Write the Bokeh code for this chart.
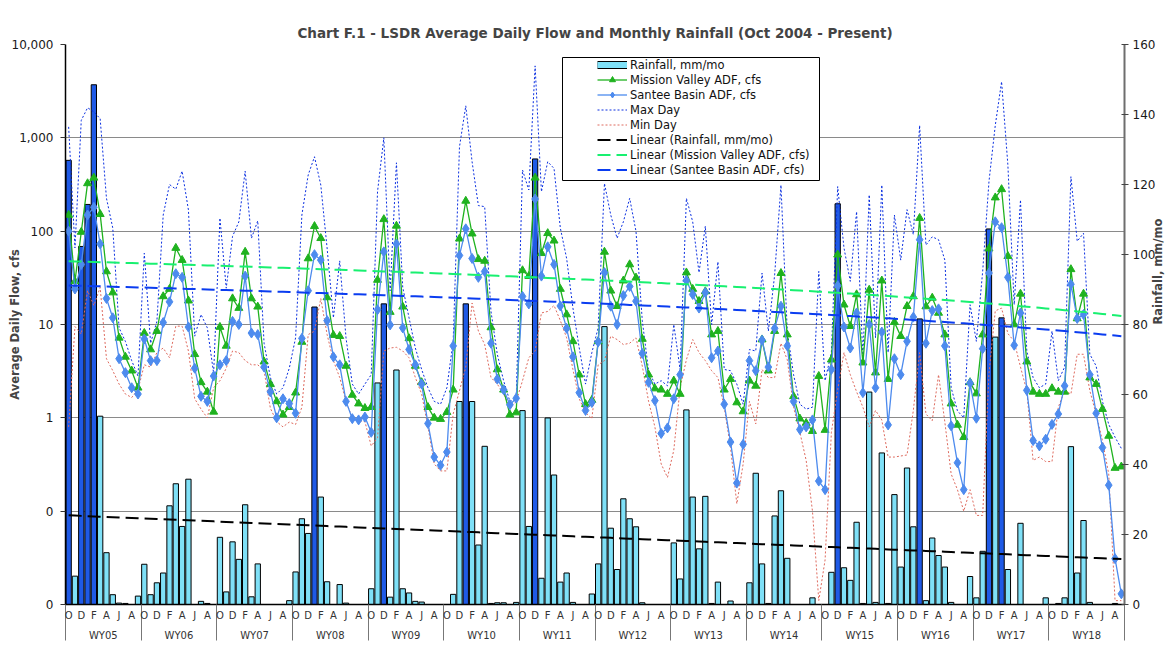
import math
import numpy as np
from bokeh.plotting import figure
from bokeh.models import (Range1d, LinearAxis, LinearScale, FixedTicker, Legend,
                          LegendItem, BoxAnnotation)
from bokeh.embed import file_html
from bokeh.resources import INLINE

# ---------------- data ----------------
WATER_YEARS = ["WY05", "WY06", "WY07", "WY08", "WY09", "WY10", "WY11",
               "WY12", "WY13", "WY14", "WY15", "WY16", "WY17", "WY18"]
MONTH_LETTERS = ["O", "N", "D", "J", "F", "M", "A", "M", "J", "J", "A", "S"]
SHOWN_MONTHS = [0, 2, 4, 6, 8, 10]

flow_ticks = [0.01, 0.1, 1, 10, 100, 1000, 10000]
flow_tick_labels = ["0", "0", "1", "10", "100", "1,000", "10,000"]
rain_ticks = [0, 20, 40, 60, 80, 100, 120, 140, 160]

# monthly rainfall, mm/mo (Oct 2004 .. Sep 2018)
rain = [
    126.9, 8.1, 102.3, 114.3, 148.5, 53.8, 14.8, 2.8, 0.4, 0.3, 0, 2.4,
    11.5, 2.8, 6.2, 9.0, 28.2, 34.5, 22.3, 35.8, 0, 0.9, 0.3, 0,
    19.2, 3.6, 17.9, 12.9, 28.5, 2.2, 11.6, 0, 0, 0, 0, 1.1,
    9.3, 24.5, 20.3, 85.0, 30.7, 6.5, 0, 5.7, 0.4, 0, 0, 0,
    4.5, 63.3, 85.9, 2.1, 67.0, 4.5, 3.3, 0.9, 0.7, 0, 0, 0,
    0, 2.9, 58.0, 85.9, 58.0, 17.0, 45.2, 0.3, 0.5, 0.5, 0, 0.6,
    55.4, 22.3, 127.3, 7.5, 53.3, 37.0, 6.4, 9.0, 0.6, 0, 0, 3.0,
    11.6, 79.4, 21.8, 10.0, 30.2, 24.5, 22.2, 0.5, 0, 0, 0, 0,
    17.6, 7.3, 55.6, 30.7, 15.9, 30.9, 0.3, 6.4, 0, 1.0, 0, 0,
    6.2, 37.5, 11.6, 0.3, 25.3, 32.5, 13.2, 0, 0, 0, 1.9, 0,
    0, 9.2, 114.5, 10.5, 6.9, 23.5, 0.3, 60.7, 0.6, 43.3, 0.3, 31.4,
    10.7, 39.0, 22.2, 81.6, 1.1, 19.0, 14.0, 10.7, 0.6, 0, 0, 8.0,
    1.9, 15.2, 107.3, 76.4, 81.9, 10.0, 0, 23.2, 0, 0, 0, 1.9,
    0, 0.3, 1.9, 45.1, 9.0, 24.0, 0.6, 0, 0, 0, 0.3, 0,
]
# months whose rainfall bar is drawn in dark blue
highlight_months = [0, 2, 3, 4, 39, 50, 63, 74, 122, 135, 146, 148]

mission_valley = [
    149, 29, 98, 325, 373, 152, 37, 22, 7.2, 4.5, 3.2, 2.1,
    8.1, 5.4, 8.5, 20, 24, 66, 49, 18, 4.8, 2.4, 1.9, 1.16,
    9.4, 5.9, 19, 15, 60, 19, 15.5, 4.0, 2.3, 1.5, 1.08, 1.3,
    1.86, 6.5, 51, 113, 84, 19.5, 7.7, 7.5, 3.6, 1.76, 1.42, 1.27,
    1.3, 30, 134, 13.6, 114, 15.5, 7.1, 3.6, 2.4, 1.3, 1.0, 0.97,
    1.15, 2.0, 83, 211, 94, 50, 48, 9.3, 3.3, 2.0, 1.08, 1.14,
    38, 33, 373, 58, 95, 79, 24, 12.8, 6.6, 2.9, 1.4, 1.55,
    6.6, 60, 23, 15.7, 29.5, 44, 31.7, 7.0, 2.9, 2.06, 2.0, 1.8,
    2.5, 1.8, 36, 24, 17.8, 22.6, 7.8, 8.5, 2.0, 2.6, 1.46, 1.17,
    2.5, 2.2, 6.9, 3.2, 8.5, 35.5, 7.8, 1.7, 0.98, 0.88, 0.72, 2.8,
    0.74, 4.2, 56, 16.3, 9.6, 21, 3.9, 23.5, 3.05, 29.5, 2.6, 10.6,
    7.5, 15.7, 20, 138, 15.6, 19.3, 13.3, 7.8, 1.42, 0.84, 0.62, 2.4,
    1.82, 7.8, 65, 229, 281, 54, 10, 21.3, 4.0, 1.9, 1.8, 1.8,
    2.07, 1.9, 1.9, 39, 11.6, 21.3, 2.7, 2.3, 1.24, 0.64, 0.29, 0.30,
]

santee_basin = [
    100, 24, 44, 149, 180, 73, 19, 11.8, 4.3, 3.05, 2.1, 1.8,
    7.0, 4.1, 4.1, 10.5, 17.5, 35, 32, 9.4, 3.4, 1.7, 1.5, 2.8,
    3.7, 4.1, 10.8, 10, 33, 8.1, 7.8, 3.5, 1.9, 1.0, 1.6, 1.42,
    1.12, 7.1, 23, 56, 49, 11, 4.5, 3.7, 1.5, 0.98, 0.95, 1.02,
    0.70, 14.4, 60, 9.9, 73, 9.2, 5.4, 3.7, 2.3, 0.87, 0.38, 0.31,
    0.43, 5.9, 55, 106, 51, 32, 37, 6.3, 2.6, 2.0, 1.38, 1.62,
    20, 16.6, 221, 33, 68, 44, 15.8, 9.1, 4.5, 1.86, 1.2, 1.46,
    6.5, 36, 15.7, 10, 20.4, 25.6, 17.8, 4.9, 2.4, 1.53, 0.68, 0.78,
    1.6, 2.9, 29.6, 21, 15, 22, 4.4, 5.2, 1.4, 0.55, 0.2, 0.52,
    4.1, 3.2, 6.8, 3.5, 9.1, 15.7, 5.9, 1.5, 0.75, 0.8, 0.95, 0.21,
    0.17, 3.3, 26, 9.4, 5.6, 13.3, 1.86, 10, 2.1, 8.3, 0.84, 4.3,
    2.9, 6.6, 12, 81, 6.3, 14.1, 14.7, 5.9, 0.82, 0.33, 0.17, 2.35,
    0.99, 5.5, 35.6, 126, 109, 32, 6.0, 13.3, 1.97, 0.57, 0.50, 0.59,
    0.85, 1.1, 2.2, 27, 11.6, 12.8, 2.9, 1.12, 0.48, 0.19, 0.031, 0.013,
]

max_day = [
    1310, 66, 1540, 2100, 1900, 1600, 225, 108, 9.2, 6.6, 4.1, 2.8,
    58, 6.3, 10.8, 149, 316, 282, 440, 169, 7.5, 12.8, 9.2, 3.0,
    138, 24.5, 88, 126, 440, 84, 129, 6.3, 2.7, 1.8, 2.1, 3.4,
    7.2, 149, 400, 627, 312, 66, 11.8, 48, 7.2, 2.3, 1.8, 2.3,
    2.9, 265, 1000, 23, 540, 25, 11.8, 5.6, 3.3, 2.1, 1.5, 1.4,
    2.1, 6.6, 800, 2200, 555, 188, 183, 13.8, 4.8, 2.5, 1.5, 1.58,
    452, 276, 5900, 265, 555, 470, 108, 51, 15, 5.6, 2.3, 5.0,
    9.2, 325, 149, 84, 126, 225, 100, 11, 3.2, 2.3, 2.5, 2.2,
    10, 3.3, 225, 126, 36, 113, 10, 47, 3.3, 3.2, 2.3, 1.4,
    5.4, 5.2, 35.6, 8.5, 34, 312, 8.5, 2.9, 1.4, 1.24, 1.3, 37,
    2.5, 5.0, 300, 66, 29, 162, 4.5, 245, 7.2, 312, 5.0, 149,
    49, 170, 92, 1360, 71, 87, 81, 49, 2.1, 1.19, 1.0, 16.3,
    6.6, 37, 340, 1360, 4000, 510, 16.3, 216, 5.2, 2.7, 2.1, 2.3,
    8.5, 2.5, 3.5, 383, 78, 95, 4.8, 3.6, 1.5, 0.85, 0.62, 0.47,
]

min_day = [
    0.8, 9.5, 7.9, 23, 16, 25, 4.3, 3.2, 2.3, 1.8, 1.65, 2.0,
    3.7, 3.5, 5.0, 5.6, 4.4, 9.6, 9.6, 5.2, 1.6, 1.24, 1.0, 2.1,
    2.5, 3.4, 5.2, 5.0, 4.1, 3.7, 3.7, 3.2, 1.27, 0.91, 0.8, 0.9,
    0.85, 1.3, 7.8, 8.5, 19, 7.8, 4.1, 2.7, 1.5, 1.0, 0.93, 0.91,
    0.50, 0.61, 5.2, 5.6, 5.7, 5.2, 4.4, 2.7, 1.8, 0.80, 0.32, 0.27,
    0.27, 1.1, 1.95, 3.5, 17, 8.5, 6.1, 2.7, 2.3, 1.8, 1.3, 1.5,
    2.5, 4.4, 5.2, 13.3, 13.8, 16, 11, 7.2, 3.3, 1.6, 1.14, 0.98,
    3.7, 4.1, 7.5, 6.9, 6.1, 6.3, 7.2, 3.6, 1.5, 0.80, 0.32, 0.23,
    0.45, 2.1, 4.2, 6.9, 5.0, 4.1, 3.2, 2.7, 1.3, 0.48, 0.12, 0.32,
    1.5, 0.86, 3.3, 2.7, 2.7, 6.3, 4.2, 1.3, 0.7, 0.35, 0.1, 0.011,
    0.03, 0.7, 2.0, 5.0, 2.9, 1.9, 1.3, 0.8, 1.2, 0.95, 0.38, 0.38,
    0.39, 0.4, 1.2, 5.0, 1.1, 0.93, 2.9, 0.9, 0.25, 0.17, 0.1, 0.17,
    0.09, 0.09, 3.0, 14, 15, 8.0, 6.6, 3.5, 1.95, 0.35, 0.38, 0.34,
    0.34, 1.3, 1.95, 1.8, 4.8, 4.8, 1.95, 1.1, 0.57, 0.25, 0.011, 0.011,
]

# ---------------- styling constants ----------------
FONT = "DejaVu Sans"
LIGHT_BAR = "#7FE0F7"
DARK_BAR = "#1F5AE6"
MV_GREEN = "#1FB21F"
SB_BLUE = "#4D8BEE"
MAX_BLUE = "#0A2FE0"
MIN_RED = "#DE6A5E"
TREND_GREEN = "#18F070"
TREND_BLUE = "#0A3CF0"
GRID = "#8A8A8A"

n = len(rain)
idx = np.arange(n)
x = idx + 0.5
bar_colors = [DARK_BAR if i in highlight_months else LIGHT_BAR for i in range(n)]


def linear_trend(vals):
    a, b = np.polyfit(idx, np.asarray(vals, dtype=float), 1)
    return a * idx + b


p = figure(width=1176, height=648,
           x_range=Range1d(0, n), y_range=Range1d(0.01, 10000),
           y_axis_type="log", output_backend="svg", toolbar_location=None,
           min_border_left=65, min_border_right=52, min_border_top=44,
           min_border_bottom=44,
           title="Chart F.1 - LSDR Average Daily Flow and Monthly Rainfall (Oct 2004 - Present)")
p.title.text_font = FONT
p.title.text_font_size = "13.5px"
p.title.text_font_style = "bold"
p.title.align = "center"
p.title.standoff = 7
p.outline_line_color = None
p.background_fill_color = "white"

p.extra_y_ranges = {"rain": Range1d(0, 160)}
p.extra_y_scales = {"rain": LinearScale()}

# left (flow) axis
yt = FixedTicker(ticks=flow_ticks)
yax = p.yaxis[0]
yax.ticker = yt
yax.major_label_overrides = {t: lab for t, lab in zip(flow_ticks, flow_tick_labels)}
yax.axis_label = "Average Daily Flow, cfs"
yax.axis_label_text_font = FONT
yax.axis_label_text_font_size = "11.5px"
yax.axis_label_text_font_style = "bold"
yax.axis_label_standoff = -13
yax.major_label_text_font = FONT
yax.major_label_text_font_size = "12px"
yax.major_label_text_color = "#1a1a1a"
yax.major_label_standoff = 7
yax.major_tick_out = 5
yax.major_tick_in = 0
yax.minor_tick_line_color = None
yax.axis_line_color = "black"
yax.axis_line_width = 1.5
yax.major_tick_line_color = "#333333"

p.ygrid.ticker = yt
p.ygrid.grid_line_color = GRID
p.ygrid.grid_line_width = 1
p.xgrid.visible = False

# right (rain) axis
rax = LinearAxis(y_range_name="rain", ticker=FixedTicker(ticks=rain_ticks))
rax.axis_label = "Rainfall, mm/mo"
rax.axis_label_text_font = FONT
rax.axis_label_text_font_size = "11.5px"
rax.axis_label_text_font_style = "bold"
rax.axis_label_standoff = 0
rax.major_label_text_font = FONT
rax.major_label_text_font_size = "12px"
rax.major_label_text_color = "#1a1a1a"
rax.major_label_standoff = 4
rax.major_tick_out = 4
rax.major_tick_in = 3
rax.major_tick_line_color = "#444444"
rax.minor_tick_line_color = None
rax.axis_line_color = "#6e6e6e"
rax.axis_line_width = 2
try:
    rax.axis_label_orientation = math.pi / 2
except Exception:
    pass
p.add_layout(rax, "right")

# bottom month axis with water-year separators (minor ticks)
month_pos, month_lab = [], []
for w in range(len(WATER_YEARS)):
    for m in SHOWN_MONTHS:
        month_pos.append(w * 12 + m + 0.5)
        month_lab.append(MONTH_LETTERS[m])
separators = [w * 12 for w in range(len(WATER_YEARS) + 1)]
xax = p.xaxis[0]
xax.ticker = FixedTicker(ticks=month_pos, minor_ticks=separators)
xax.major_label_overrides = {t: lab for t, lab in zip(month_pos, month_lab)}
xax.major_label_text_font = FONT
xax.major_label_text_font_size = "10px"
xax.major_label_text_color = "#333333"
xax.major_label_standoff = -31
xax.major_tick_out = 0
xax.major_tick_in = 0
xax.minor_tick_out = 36
xax.minor_tick_in = 0
xax.minor_tick_line_color = "#777777"
xax.minor_tick_line_width = 1
xax.axis_line_color = "black"
xax.axis_line_width = 1.5

wy_pos = [w * 12 + 6 for w in range(len(WATER_YEARS))]
wax = LinearAxis(ticker=FixedTicker(ticks=wy_pos))
wax.major_label_overrides = {t: lab for t, lab in zip(wy_pos, WATER_YEARS)}
wax.major_label_text_font = FONT
wax.major_label_text_font_size = "10px"
wax.major_label_text_color = "#333333"
wax.major_label_standoff = 0
wax.major_tick_line_color = None
wax.minor_tick_line_color = None
wax.axis_line_color = None
p.add_layout(wax, "below")

# rainfall bars
p.vbar(x=x, top=rain, bottom=0, width=0.84, y_range_name="rain",
       fill_color=bar_colors, line_color="black", line_width=1)

# daily extremes
r_min = p.line(x, min_day, line_color=MIN_RED, line_dash="2 2", line_width=1)
r_max = p.line(x, max_day, line_color=MAX_BLUE, line_dash="2 2", line_width=1)

# average daily flows
r_mv_l = p.line(x, mission_valley, line_color=MV_GREEN, line_width=1.3)
r_mv_m = p.scatter(x, mission_valley, marker="triangle", size=8,
                   fill_color=MV_GREEN, line_color=MV_GREEN)
r_sb_l = p.line(x, santee_basin, line_color=SB_BLUE, line_width=1.3)
r_sb_m = p.scatter(x, santee_basin, marker="diamond", size=10,
                   fill_color=SB_BLUE, line_color=SB_BLUE)

# linear trendlines
r_tr_rain = p.line(x, linear_trend(rain), y_range_name="rain",
                   line_color="black", line_width=2, line_dash="13 6")
r_tr_mv = p.line(x, linear_trend(mission_valley), line_color=TREND_GREEN,
                 line_width=2, line_dash="13 6")
r_tr_sb = p.line(x, linear_trend(santee_basin), line_color=TREND_BLUE,
                 line_width=2, line_dash="13 6")

# legend swatch for rainfall (outlined flat bar); invisible (NaN) data
nan2 = [float("nan"), float("nan")]
r_rain_edge = p.line(x=x[:2], y=nan2, line_color="black", line_width=8)
r_rain_fill = p.line(x=x[:2], y=nan2, line_color=LIGHT_BAR, line_width=6)

legend = Legend(items=[
    LegendItem(label="Rainfall, mm/mo", renderers=[r_rain_edge, r_rain_fill]),
    LegendItem(label="Mission Valley ADF, cfs", renderers=[r_mv_l, r_mv_m]),
    LegendItem(label="Santee Basin ADF, cfs", renderers=[r_sb_l, r_sb_m]),
    LegendItem(label="Max Day", renderers=[r_max]),
    LegendItem(label="Min Day", renderers=[r_min]),
    LegendItem(label="Linear (Rainfall, mm/mo)", renderers=[r_tr_rain]),
    LegendItem(label="Linear (Mission Valley ADF, cfs)", renderers=[r_tr_mv]),
    LegendItem(label="Linear (Santee Basin ADF, cfs)", renderers=[r_tr_sb]),
])
legend.label_text_font = FONT
legend.label_text_font_size = "11.5px"
legend.label_text_color = "#111111"
legend.glyph_width = 30
legend.glyph_height = 15
legend.label_height = 15
legend.spacing = 0
legend.label_standoff = 3
legend.margin = 0

# legend frame (drawn in canvas pixels, wider on the left like the original)
box_ok = True
try:
    legend_box = BoxAnnotation(left=562, right=819, top=57, bottom=180,
                               left_units="canvas", right_units="canvas",
                               top_units="canvas", bottom_units="canvas",
                               fill_color="white", fill_alpha=1.0,
                               line_color="black", line_width=1,
                               line_alpha=1.0)
    p.add_layout(legend_box)
except Exception:
    box_ok = False

if box_ok:
    legend.padding = 0
    legend.location = (532, 427)
    legend.border_line_color = None
    legend.background_fill_alpha = 0
else:
    legend.padding = 4
    legend.location = (528, 419)
    legend.border_line_color = "black"
    legend.border_line_width = 1
    legend.background_fill_color = "white"
    legend.background_fill_alpha = 1
p.add_layout(legend)

open("out.html", "w").write(file_html(p, INLINE))
